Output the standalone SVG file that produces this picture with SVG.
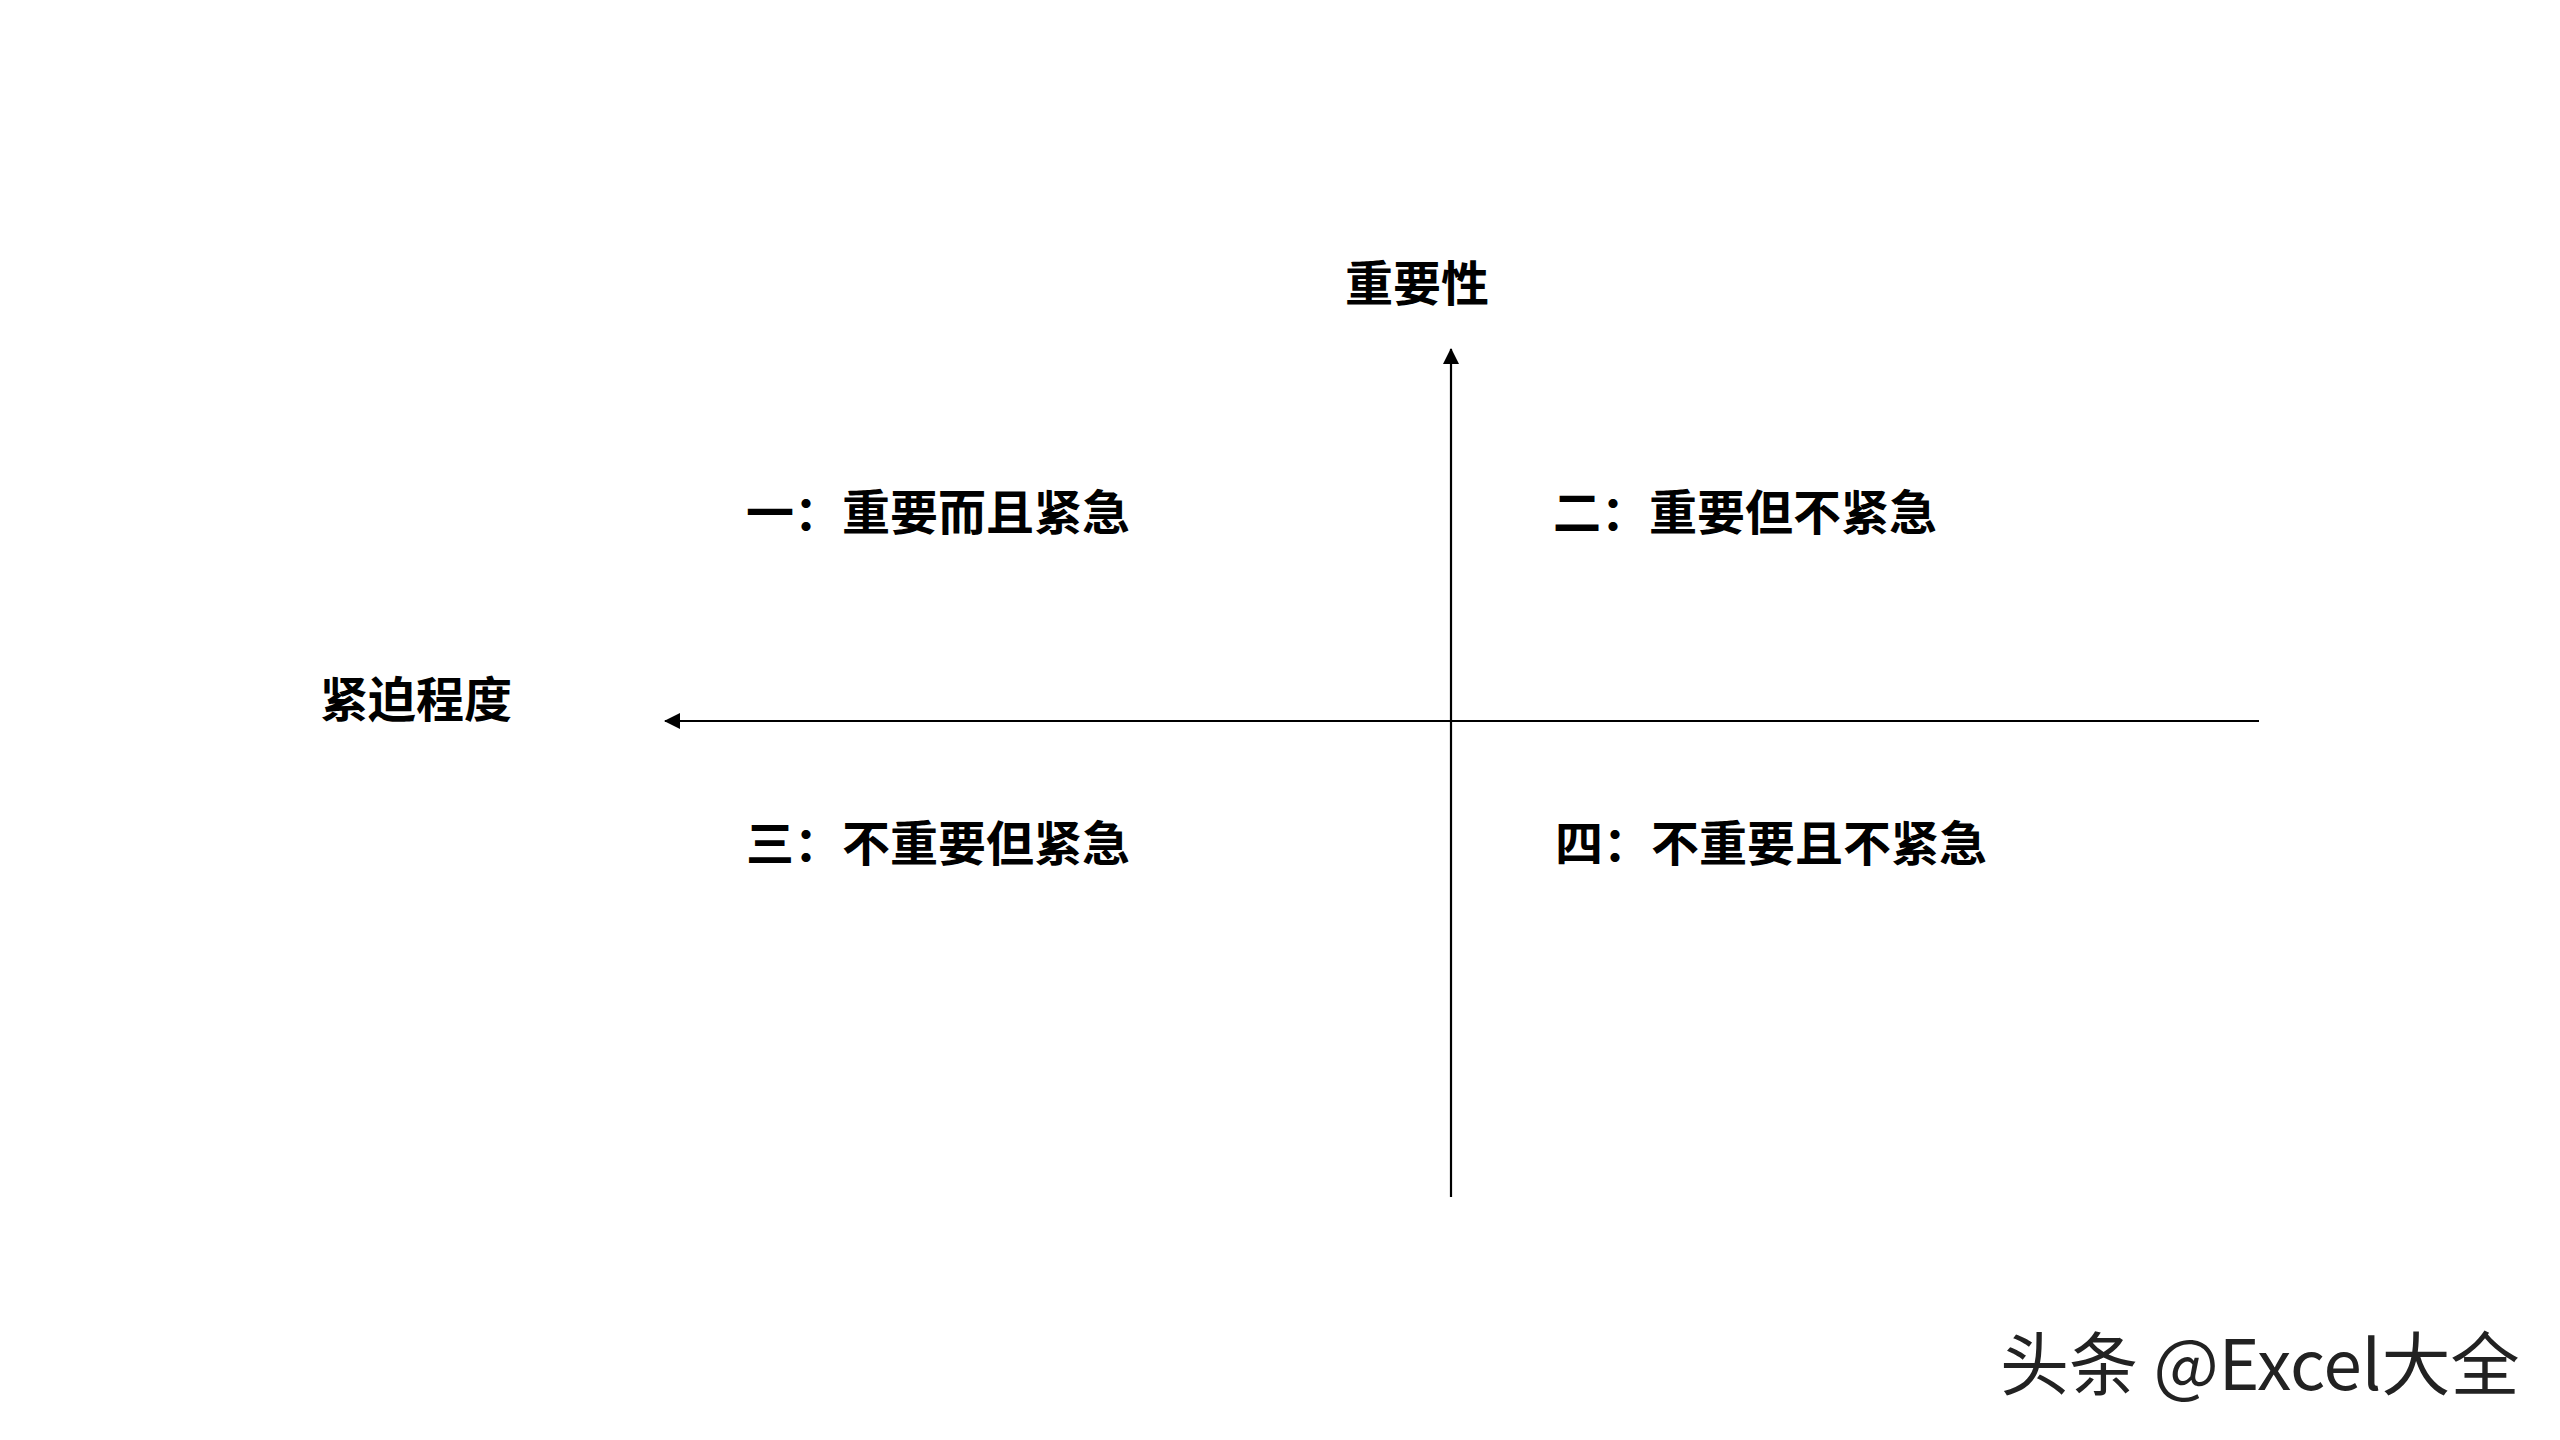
<svg xmlns="http://www.w3.org/2000/svg" width="2560" height="1440" viewBox="0 0 2560 1440">
<style>
.lbl{font-family:"Noto Sans CJK SC","Liberation Sans",sans-serif;font-weight:bold;font-size:48px;fill:#000}
.wm{font-family:"Noto Sans CJK SC","Liberation Sans",sans-serif;font-size:69px;fill:#222}
.ax{stroke:#000;stroke-width:2.2;fill:none}
</style>
<defs>
<marker id="ah" viewBox="0 0 16 16" refX="15" refY="8" markerWidth="16" markerHeight="16" markerUnits="userSpaceOnUse" orient="auto">
<path d="M0,0 L16,8 L0,16 Z" fill="#000"/>
</marker>
</defs>
<rect width="2560" height="1440" fill="#fff"/>
<g id="connectors">
<line class="ax" x1="1451" y1="1197" x2="1451" y2="349" marker-end="url(#ah)"/>
<line class="ax" x1="2259" y1="721" x2="665" y2="721" marker-end="url(#ah)"/>
</g>
<g id="axis-y"><text class="lbl" x="1345" y="301">重要性</text></g>
<g id="axis-x"><text class="lbl" x="320" y="717">紧迫程度</text></g>
<g id="q1"><text class="lbl" x="746" y="530">一：重要而且紧急</text></g>
<g id="q2"><text class="lbl" x="1553" y="530">二：重要但不紧急</text></g>
<g id="q3"><text class="lbl" x="746" y="861">三：不重要但紧急</text></g>
<g id="q4"><text class="lbl" x="1555" y="861">四：不重要且不紧急</text></g>
<g id="watermark"><text class="wm" x="2000" y="1390">头条 @Excel大全</text></g>
</svg>
